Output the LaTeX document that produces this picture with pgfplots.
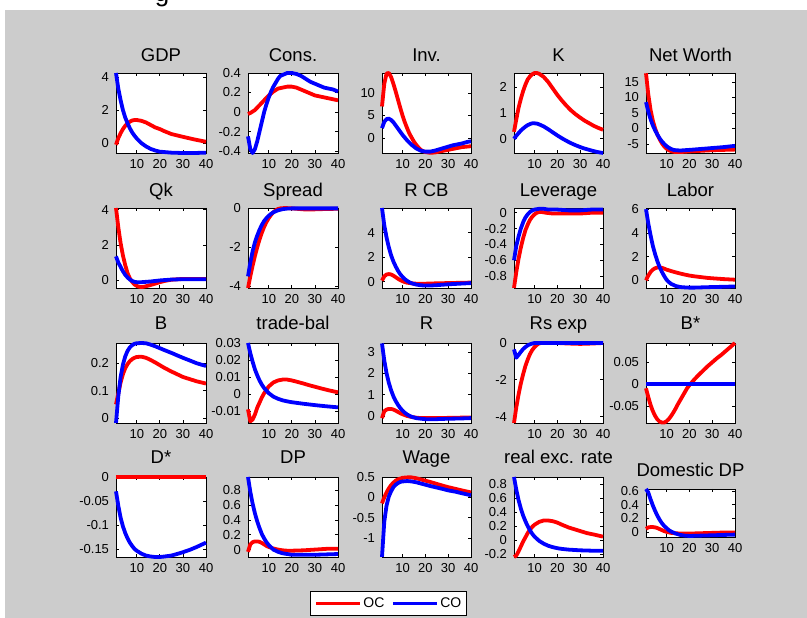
\documentclass[border=0pt]{standalone}
\usepackage{pgfplots}
\pgfplotsset{compat=1.18}
\usepackage{fontspec}
\setmainfont{Liberation Sans}
\definecolor{bg}{RGB}{204,204,204}
\definecolor{mred}{RGB}{255,0,0}
\definecolor{mblue}{RGB}{0,0,255}
\pgfplotsset{
 sub/.style={scale only axis, width=89pt, height=80pt, xmin=1, xmax=40, xtick={10,20,30,40},
  anchor=south west,
  tick align=inside, major tick length=3pt, clip=false,
  axis line style={line width=0.9pt, black}, tick style={line width=0.7pt, black},
  axis background/.style={fill=white},
  tick label style={font=\fontsize{13}{13.5}\selectfont},
  /pgf/number format/assume math mode=true,
  yticklabel style={/pgf/number format/fixed, /pgf/number format/precision=3, xshift=-3.5pt},
  xticklabel style={yshift=-2.5pt},
  scaled y ticks=false,
  title style={font=\fontsize{18.5}{19}\selectfont, at={(0.5,1)}, anchor=base, yshift=5.5pt},
  every axis plot/.append style={line width=3.8pt, no markers, line join=round},
  legend image code/.code={\draw[##1] (0pt,0pt) -- (44pt,0pt);},
 },
 lowt/.style={title style={yshift=1.5pt}},
 oc/.style={mred}, co/.style={mblue},
}
\begin{document}
\begin{tikzpicture}
\path[use as bounding box] (0,0) rectangle (807pt,618pt);
\node[anchor=base, inner sep=0pt] at (162pt,616pt) {\fontsize{26}{26}\selectfont g};
\fill[bg] (5pt,0pt) rectangle (807pt,608pt);

% ---------- Row 1 ----------
\begin{axis}[sub, at={(116pt,465pt)}, width=90pt, title={GDP}, ymin=-0.6, ymax=4.25, ytick={0,2,4}]
\addplot[oc] coordinates {(1,-0.1)(2,0.3)(3,0.6)(4,0.85)(5,1.05)(6,1.2)(7,1.3)(8,1.37)(9,1.4)(10,1.4)(12,1.35)(14,1.25)(16,1.1)(18,0.95)(20,0.85)(22,0.72)(25,0.55)(30,0.38)(35,0.22)(40,0.08)};
\addplot[co] coordinates {(1,4.25)(2,3.3)(3,2.6)(4,2.0)(5,1.55)(6,1.2)(7,0.9)(8,0.65)(9,0.45)(10,0.28)(12,0.0)(14,-0.2)(16,-0.35)(18,-0.45)(20,-0.52)(25,-0.58)(30,-0.6)(35,-0.6)(40,-0.58)};
\end{axis}
\begin{axis}[sub, at={(248pt,465pt)}, width=90pt, title={Cons.}, ymin=-0.42, ymax=0.4, ytick={-0.4,-0.2,0,0.2,0.4}]
\addplot[oc] coordinates {(1,-0.02)(2,-0.01)(4,0.02)(6,0.07)(8,0.12)(10,0.17)(12,0.21)(14,0.24)(16,0.25)(18,0.26)(20,0.26)(22,0.25)(24,0.23)(26,0.21)(28,0.19)(30,0.17)(32,0.16)(34,0.15)(36,0.14)(38,0.13)(40,0.12)};
\addplot[co] coordinates {(1,-0.25)(2,-0.38)(3,-0.42)(4,-0.38)(5,-0.3)(6,-0.2)(7,-0.1)(8,0.0)(9,0.08)(10,0.15)(11,0.21)(12,0.26)(13,0.3)(14,0.34)(15,0.37)(16,0.38)(18,0.4)(20,0.4)(22,0.39)(24,0.37)(26,0.34)(28,0.31)(30,0.29)(32,0.27)(34,0.25)(36,0.24)(38,0.23)(40,0.21)};
\end{axis}
\begin{axis}[sub, at={(382pt,465pt)}, title={Inv.}, ymin=-3.3, ymax=14.4, ytick={0,5,10}]
\addplot[oc] coordinates {(1,7)(2,12)(3,14.3)(4,14.4)(5,13.5)(6,12)(7,10.3)(8,8.5)(9,6.7)(10,5)(11,3.5)(12,2.2)(13,1.0)(14,0.1)(15,-0.8)(16,-1.5)(17,-2.1)(18,-2.6)(19,-2.9)(20,-3.1)(22,-3.25)(24,-3.2)(26,-3.0)(28,-2.8)(30,-2.6)(32,-2.4)(34,-2.2)(36,-2.0)(38,-1.9)(40,-1.8)};
\addplot[co] coordinates {(1,2.2)(2,3.6)(3,4.2)(4,4.3)(5,4.0)(6,3.5)(7,2.8)(8,2.1)(9,1.4)(10,0.7)(11,0.1)(12,-0.5)(13,-1.0)(14,-1.5)(15,-1.9)(16,-2.3)(18,-2.8)(20,-3.0)(22,-3.0)(24,-2.8)(26,-2.5)(28,-2.2)(30,-1.9)(32,-1.6)(34,-1.4)(36,-1.2)(38,-0.9)(40,-0.7)};
\end{axis}
\begin{axis}[sub, at={(514pt,465pt)}, title={K}, ymin=-0.55, ymax=2.55, ytick={0,1,2}]
\addplot[oc] coordinates {(1,0.27)(2,0.75)(3,1.2)(4,1.55)(5,1.85)(6,2.1)(7,2.3)(8,2.42)(9,2.5)(10,2.55)(11,2.55)(12,2.52)(14,2.4)(16,2.2)(18,1.95)(20,1.7)(22,1.48)(24,1.28)(26,1.1)(28,0.95)(30,0.82)(32,0.7)(34,0.6)(36,0.5)(38,0.42)(40,0.35)};
\addplot[co] coordinates {(1,0.0)(2,0.12)(3,0.22)(4,0.32)(5,0.4)(6,0.47)(7,0.53)(8,0.57)(9,0.6)(10,0.6)(11,0.59)(12,0.56)(14,0.48)(16,0.37)(18,0.25)(20,0.13)(22,0.02)(24,-0.08)(26,-0.17)(28,-0.25)(30,-0.32)(32,-0.38)(34,-0.43)(36,-0.48)(38,-0.52)(40,-0.55)};
\end{axis}
\begin{axis}[sub, at={(646pt,465pt)}, title={Net Worth}, ymin=-7.9, ymax=17.9, ytick={-5,0,5,10,15}]
\addplot[oc] coordinates {(1,17.8)(2,11)(3,6)(4,2.5)(5,0)(6,-2)(7,-3.5)(8,-4.8)(9,-5.8)(10,-6.5)(11,-7)(12,-7.3)(13,-7.5)(14,-7.6)(16,-7.6)(18,-7.5)(20,-7.4)(25,-7.2)(30,-7.0)(35,-6.9)(40,-6.8)};
\addplot[co] coordinates {(1,8.5)(2,5.5)(3,3)(4,1)(5,-0.6)(6,-2)(7,-3.2)(8,-4.2)(9,-5)(10,-5.7)(11,-6.2)(12,-6.6)(13,-6.9)(14,-7)(16,-7.1)(18,-7.0)(20,-6.9)(25,-6.6)(30,-6.3)(35,-6.0)(40,-5.6)};
\end{axis}

% ---------- Row 2 ----------
\begin{axis}[sub, at={(116pt,330pt)}, width=90pt, title={Qk}, ymin=-0.45, ymax=4.1, ytick={0,2,4}]
\addplot[oc] coordinates {(1,4.1)(2,3.0)(3,2.1)(4,1.4)(5,0.85)(6,0.4)(7,0.1)(8,-0.1)(9,-0.25)(10,-0.33)(11,-0.38)(12,-0.4)(13,-0.38)(14,-0.35)(16,-0.28)(18,-0.2)(20,-0.12)(22,-0.05)(25,0.02)(28,0.05)(30,0.06)(35,0.06)(40,0.06)};
\addplot[co] coordinates {(1,1.35)(2,1.0)(3,0.75)(4,0.5)(5,0.3)(6,0.15)(7,0.03)(8,-0.05)(9,-0.1)(10,-0.12)(12,-0.12)(14,-0.1)(16,-0.08)(18,-0.05)(20,-0.02)(25,0.03)(30,0.05)(35,0.05)(40,0.05)};
\end{axis}
\begin{axis}[sub, at={(248pt,330pt)}, width=90pt, title={Spread}, ymin=-4.1, ymax=0.02, ytick={-4,-2,0}]
\addplot[oc] coordinates {(1,-4.1)(2,-3.5)(3,-2.95)(4,-2.45)(5,-2.0)(6,-1.6)(7,-1.25)(8,-0.95)(9,-0.7)(10,-0.5)(11,-0.33)(12,-0.2)(13,-0.1)(14,-0.03)(15,0.0)(17,0.02)(20,0.0)(25,-0.05)(30,-0.05)(35,-0.03)(40,-0.02)};
\addplot[co] coordinates {(1,-3.5)(2,-2.8)(3,-2.2)(4,-1.75)(5,-1.4)(6,-1.1)(7,-0.85)(8,-0.65)(9,-0.5)(10,-0.38)(11,-0.28)(12,-0.2)(14,-0.1)(16,-0.04)(18,-0.01)(20,0.0)(30,0.0)(40,0.0)};
\end{axis}
\begin{axis}[sub, at={(382pt,330pt)}, title={R CB}, ymin=-0.5, ymax=6.0, ytick={0,2,4}]
\addplot[oc] coordinates {(1,0.1)(2,0.45)(3,0.6)(4,0.63)(5,0.6)(6,0.5)(7,0.38)(8,0.25)(9,0.14)(10,0.05)(11,-0.02)(12,-0.07)(14,-0.12)(16,-0.15)(18,-0.16)(20,-0.15)(25,-0.12)(30,-0.1)(35,-0.08)(40,-0.06)};
\addplot[co] coordinates {(1,6.0)(2,4.6)(3,3.6)(4,2.8)(5,2.15)(6,1.65)(7,1.25)(8,0.9)(9,0.62)(10,0.4)(11,0.22)(12,0.08)(13,-0.03)(14,-0.12)(16,-0.22)(18,-0.28)(20,-0.3)(22,-0.3)(25,-0.27)(30,-0.2)(35,-0.15)(40,-0.1)};
\end{axis}
\begin{axis}[sub, at={(514pt,330pt)}, title={Leverage}, ymin=-0.95, ymax=0.06, ytick={-0.8,-0.6,-0.4,-0.2,0}]
\addplot[oc] coordinates {(1,-0.95)(2,-0.75)(3,-0.58)(4,-0.44)(5,-0.32)(6,-0.22)(7,-0.15)(8,-0.09)(9,-0.05)(10,-0.02)(11,0.0)(12,0.01)(13,0.01)(15,0.0)(18,-0.01)(20,-0.01)(25,-0.01)(30,-0.01)(35,0.0)(40,0.0)};
\addplot[co] coordinates {(1,-0.6)(2,-0.42)(3,-0.3)(4,-0.2)(5,-0.12)(6,-0.06)(7,-0.02)(8,0.01)(9,0.03)(10,0.04)(12,0.05)(14,0.05)(16,0.04)(20,0.04)(25,0.03)(30,0.03)(35,0.04)(40,0.04)};
\end{axis}
\begin{axis}[sub, at={(646pt,330pt)}, title={Labor}, ymin=-0.65, ymax=6.1, ytick={0,2,4,6}]
\addplot[oc] coordinates {(1,0.0)(2,0.4)(3,0.7)(4,0.9)(5,1.02)(6,1.08)(7,1.1)(8,1.05)(9,0.98)(10,0.9)(12,0.78)(14,0.67)(16,0.57)(18,0.48)(20,0.4)(22,0.34)(25,0.27)(28,0.2)(30,0.17)(35,0.1)(40,0.05)};
\addplot[co] coordinates {(1,6.0)(2,4.8)(3,3.8)(4,2.9)(5,2.2)(6,1.6)(7,1.1)(8,0.7)(9,0.35)(10,0.05)(11,-0.15)(12,-0.3)(14,-0.48)(16,-0.57)(18,-0.6)(20,-0.62)(22,-0.62)(25,-0.6)(30,-0.57)(35,-0.55)(40,-0.52)};
\end{axis}

% ---------- Row 3 ----------
\begin{axis}[sub, lowt, at={(116pt,195pt)}, width=90pt, title={B}, ymin=-0.018, ymax=0.274, ytick={0,0.1,0.2}]
\addplot[oc] coordinates {(1,0.05)(2,0.09)(3,0.13)(4,0.16)(5,0.182)(6,0.197)(7,0.208)(8,0.215)(9,0.22)(10,0.223)(12,0.224)(14,0.22)(16,0.212)(18,0.203)(20,0.193)(22,0.183)(25,0.17)(28,0.158)(30,0.15)(33,0.142)(36,0.134)(40,0.126)};
\addplot[co] coordinates {(1,-0.018)(2,0.08)(3,0.15)(4,0.195)(5,0.225)(6,0.245)(7,0.258)(8,0.266)(9,0.271)(10,0.273)(12,0.274)(14,0.273)(16,0.268)(18,0.262)(20,0.255)(22,0.248)(25,0.238)(28,0.227)(30,0.22)(33,0.21)(36,0.2)(40,0.19)};
\end{axis}
\begin{axis}[sub, lowt, at={(248pt,195pt)}, width=90pt, title={trade-bal}, ymin=-0.017, ymax=0.03, ytick={-0.01,0,0.01,0.02,0.03}]
\addplot[oc] coordinates {(1,-0.009)(2,-0.016)(3,-0.015)(4,-0.012)(5,-0.008)(6,-0.005)(7,-0.002)(8,0.0005)(9,0.0025)(10,0.0045)(12,0.0068)(14,0.008)(16,0.0085)(17,0.0086)(18,0.0085)(20,0.008)(22,0.0073)(25,0.0062)(28,0.005)(30,0.0043)(33,0.0032)(36,0.0022)(40,0.001)};
\addplot[co] coordinates {(1,0.03)(2,0.024)(3,0.019)(4,0.0145)(5,0.011)(6,0.008)(7,0.0055)(8,0.0035)(9,0.002)(10,0.0005)(11,-0.0005)(12,-0.0015)(14,-0.0028)(16,-0.0037)(18,-0.0043)(20,-0.0048)(25,-0.0057)(30,-0.0065)(35,-0.0072)(40,-0.0078)};
\end{axis}
\begin{axis}[sub, lowt, at={(382pt,195pt)}, title={R}, ymin=-0.33, ymax=3.42, ytick={0,1,2,3}]
\addplot[oc] coordinates {(1,-0.1)(2,0.22)(3,0.3)(4,0.33)(5,0.33)(6,0.3)(7,0.25)(8,0.19)(9,0.13)(10,0.08)(12,0.0)(14,-0.05)(16,-0.08)(18,-0.1)(20,-0.1)(25,-0.1)(30,-0.09)(35,-0.08)(40,-0.07)};
\addplot[co] coordinates {(1,3.4)(2,2.6)(3,2.0)(4,1.55)(5,1.2)(6,0.92)(7,0.7)(8,0.52)(9,0.37)(10,0.25)(11,0.15)(12,0.07)(13,0.01)(14,-0.04)(16,-0.1)(18,-0.13)(20,-0.15)(25,-0.15)(30,-0.13)(35,-0.12)(40,-0.1)};
\end{axis}
\begin{axis}[sub, lowt, at={(514pt,195pt)}, title={Rs exp}, ymin=-4.35, ymax=0.0, ytick={-4,-2,0}]
\addplot[oc] coordinates {(1,-4.35)(2,-3.5)(3,-2.8)(4,-2.2)(5,-1.7)(6,-1.25)(7,-0.9)(8,-0.6)(9,-0.38)(10,-0.22)(11,-0.1)(12,-0.02)(13,0.0)(20,0.0)(25,-0.03)(30,-0.05)(35,-0.03)(40,0.0)};
\addplot[co] coordinates {(1,-0.35)(2,-0.8)(3,-0.65)(4,-0.48)(5,-0.33)(6,-0.22)(7,-0.13)(8,-0.07)(9,-0.03)(10,0.0)(40,0.0)};
\end{axis}
\begin{axis}[sub, lowt, at={(646pt,195pt)}, title={B*}, ymin=-0.089, ymax=0.093, ytick={-0.05,0,0.05}]
\addplot[oc] coordinates {(1,-0.01)(2,-0.03)(3,-0.048)(4,-0.062)(5,-0.073)(6,-0.081)(7,-0.086)(8,-0.088)(9,-0.088)(10,-0.085)(11,-0.08)(12,-0.073)(13,-0.065)(14,-0.056)(15,-0.046)(16,-0.037)(17,-0.028)(18,-0.019)(19,-0.01)(20,-0.003)(21,0.003)(22,0.009)(24,0.02)(26,0.03)(28,0.04)(30,0.049)(32,0.058)(34,0.066)(36,0.075)(38,0.084)(40,0.093)};
\addplot[co] coordinates {(1,0)(40,0)};
\end{axis}

% ---------- Row 4 ----------
\begin{axis}[sub, lowt, at={(116pt,61pt)}, width=90pt, title={D*}, ymin=-0.167, ymax=0, ytick={-0.15,-0.1,-0.05,0}]
\addplot[oc] coordinates {(1,0)(40,0)};
\addplot[co] coordinates {(1,-0.03)(2,-0.06)(3,-0.085)(4,-0.103)(5,-0.117)(6,-0.128)(7,-0.137)(8,-0.144)(9,-0.15)(10,-0.154)(12,-0.16)(14,-0.164)(16,-0.166)(18,-0.167)(20,-0.167)(22,-0.166)(25,-0.164)(28,-0.16)(30,-0.157)(33,-0.152)(36,-0.146)(40,-0.137)};
\end{axis}
\begin{axis}[sub, lowt, at={(248pt,61pt)}, width=90pt, title={DP}, ymin=-0.1, ymax=0.98, ytick={0,0.2,0.4,0.6,0.8},
  legend columns=2,
  legend style={at={(1.561,-0.581)}, anchor=center, draw=black, line width=0.9pt, fill=white,
    font=\fontsize{14}{15}\selectfont, inner xsep=4pt, inner ysep=5pt,
    nodes={inner sep=1.5pt},
    /tikz/every even column/.append style={column sep=5pt}},
  legend cell align=left]
\addplot[oc] coordinates {(1,-0.03)(2,0.07)(3,0.1)(4,0.11)(5,0.11)(6,0.105)(7,0.09)(8,0.07)(9,0.05)(10,0.035)(12,0.015)(14,0.0)(16,-0.01)(18,-0.015)(20,-0.015)(25,-0.01)(30,0.0)(35,0.01)(40,0.01)};
\addplot[co] coordinates {(1,0.98)(2,0.78)(3,0.62)(4,0.49)(5,0.38)(6,0.29)(7,0.21)(8,0.15)(9,0.1)(10,0.06)(11,0.03)(12,0.0)(14,-0.03)(16,-0.05)(18,-0.06)(20,-0.07)(25,-0.07)(30,-0.07)(35,-0.065)(40,-0.06)};
\legend{OC,CO}
\end{axis}
\begin{axis}[sub, lowt, at={(382pt,61pt)}, title={Wage}, ymin=-1.47, ymax=0.5, ytick={-1,-0.5,0,0.5}]
\addplot[oc] coordinates {(1,-0.15)(2,0.0)(3,0.12)(4,0.22)(5,0.3)(6,0.36)(7,0.41)(8,0.44)(9,0.46)(10,0.48)(12,0.49)(14,0.49)(16,0.47)(18,0.44)(20,0.41)(22,0.38)(25,0.33)(28,0.28)(30,0.25)(33,0.21)(36,0.17)(40,0.12)};
\addplot[co] coordinates {(1,-1.47)(2,-0.6)(3,-0.2)(4,0.02)(5,0.15)(6,0.25)(7,0.31)(8,0.35)(9,0.38)(10,0.39)(12,0.4)(14,0.39)(16,0.37)(18,0.34)(20,0.31)(22,0.28)(25,0.24)(28,0.2)(30,0.17)(33,0.14)(36,0.1)(40,0.05)};
\end{axis}
\begin{axis}[sub, lowt, at={(514pt,61pt)}, title={real exc. rate}, ymin=-0.24, ymax=0.9, ytick={-0.2,0,0.2,0.4,0.6,0.8}]
\addplot[oc] coordinates {(1,-0.24)(2,-0.22)(3,-0.16)(4,-0.09)(5,-0.02)(6,0.04)(7,0.1)(8,0.15)(9,0.19)(10,0.22)(12,0.26)(14,0.28)(16,0.28)(18,0.27)(20,0.25)(22,0.22)(25,0.18)(28,0.15)(30,0.13)(33,0.1)(36,0.08)(40,0.05)};
\addplot[co] coordinates {(1,0.9)(2,0.72)(3,0.57)(4,0.45)(5,0.35)(6,0.27)(7,0.2)(8,0.14)(9,0.09)(10,0.05)(12,-0.01)(14,-0.05)(16,-0.08)(18,-0.1)(20,-0.115)(22,-0.125)(25,-0.135)(30,-0.145)(35,-0.15)(40,-0.15)};
\end{axis}
\begin{axis}[sub, at={(646pt,81pt)}, height=48pt, title={Domestic DP}, title style={yshift=0.8pt}, ymin=-0.07, ymax=0.63, ytick={0,0.2,0.4,0.6}]
\addplot[oc] coordinates {(1,0.05)(2,0.07)(3,0.075)(4,0.075)(5,0.07)(6,0.06)(7,0.045)(8,0.03)(9,0.015)(10,0.005)(12,-0.01)(14,-0.015)(16,-0.02)(20,-0.02)(25,-0.015)(30,-0.01)(35,-0.005)(40,-0.005)};
\addplot[co] coordinates {(1,0.63)(2,0.58)(3,0.48)(4,0.39)(5,0.31)(6,0.24)(7,0.18)(8,0.13)(9,0.09)(10,0.06)(11,0.03)(12,0.01)(14,-0.02)(16,-0.04)(18,-0.05)(20,-0.055)(25,-0.05)(30,-0.045)(35,-0.04)(40,-0.035)};
\end{axis}
\end{tikzpicture}
\end{document}
